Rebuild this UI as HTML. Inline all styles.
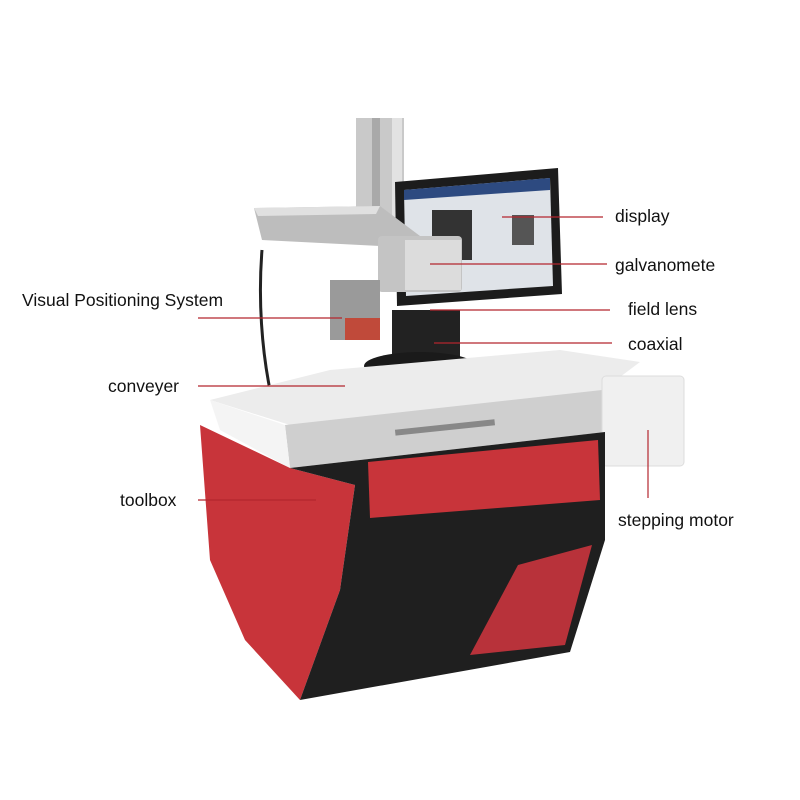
<!DOCTYPE html>
<html><head><meta charset="utf-8"><style>
body{margin:0;background:#fff}
svg{display:block}
text{font-family:"Liberation Sans",Arial,sans-serif;font-size:17.5px;fill:#111}
</style></head><body>
<svg width="800" height="800" viewBox="0 0 800 800" xmlns="http://www.w3.org/2000/svg">
<!-- column -->
<rect x="356" y="118" width="48" height="120" fill="#c9c9c9"/>
<rect x="372" y="118" width="8" height="120" fill="#a9a9a9"/>
<rect x="392" y="118" width="10" height="120" fill="#e2e2e2"/>
<!-- monitor -->
<polygon points="395,182 558,168 562,294 397,306" fill="#1c1c1c"/>
<polygon points="404,190 550,178 553,286 406,296" fill="#dfe3e8"/>
<polygon points="404,190 550,178 550,190 404,200" fill="#2d4a80"/>
<rect x="432" y="210" width="40" height="50" fill="#333"/>
<rect x="512" y="215" width="22" height="30" fill="#555"/>
<!-- cable -->
<path d="M262,250 C258,300 262,350 270,390" stroke="#222" stroke-width="3" fill="none"/>
<!-- arm -->
<polygon points="254,208 380,206 420,236 380,246 262,240" fill="#bdbdbd"/>
<polygon points="254,208 380,206 376,214 258,216" fill="#e0e0e0"/>
<!-- galvo -->
<rect x="378" y="236" width="84" height="56" rx="4" fill="#c4c4c4"/>
<rect x="405" y="240" width="56" height="50" fill="#dcdcdc"/>
<!-- camera -->
<rect x="330" y="280" width="50" height="60" fill="#9a9a9a"/>
<rect x="345" y="318" width="35" height="22" fill="#c04a3a"/>
<!-- lens unit -->
<rect x="392" y="310" width="68" height="52" fill="#222"/>
<ellipse cx="420" cy="366" rx="56" ry="14" fill="#1a1a1a"/>
<!-- conveyor belt -->
<polygon points="210,400 330,370 560,350 640,362 600,392 290,425" fill="#ececec"/>
<polygon points="285,425 602,390 606,432 290,468" fill="#cfcfcf"/>
<polygon points="210,400 285,425 290,468 220,430" fill="#f4f4f4"/>
<rect x="395" y="425" width="100" height="6" fill="#888" transform="rotate(-6 440 428)"/>
<!-- stepping motor -->
<rect x="602" y="376" width="82" height="90" rx="4" fill="#f0f0f0" stroke="#ddd"/>
<!-- cabinet -->
<polygon points="200,425 290,468 355,485 340,590 300,700 245,640 210,560" fill="#c8343a"/>
<polygon points="290,468 605,432 605,540 570,652 300,700 340,590 355,485" fill="#1f1f1f"/>
<polygon points="368,462 598,440 600,500 370,518" fill="#c8343a"/>
<polygon points="470,655 518,565 592,545 565,645" fill="#b8323a"/>
<!-- leader lines -->
<g stroke="#b3262e" stroke-width="1.2">
<line x1="502" y1="217" x2="603" y2="217"/>
<line x1="430" y1="264" x2="607" y2="264"/>
<line x1="198" y1="318" x2="342" y2="318"/>
<line x1="430" y1="310" x2="610" y2="310"/>
<line x1="434" y1="343" x2="612" y2="343"/>
<line x1="198" y1="386" x2="345" y2="386"/>
<line x1="198" y1="500" x2="316" y2="500"/>
<line x1="648" y1="430" x2="648" y2="498"/>
</g>
<text x="615" y="222">display</text>
<text x="615" y="271">galvanomete</text>
<text x="22" y="306">Visual Positioning System</text>
<text x="628" y="315">field lens</text>
<text x="628" y="350">coaxial</text>
<text x="108" y="392">conveyer</text>
<text x="120" y="506">toolbox</text>
<text x="618" y="526">stepping motor</text>
</svg>
</body></html>
